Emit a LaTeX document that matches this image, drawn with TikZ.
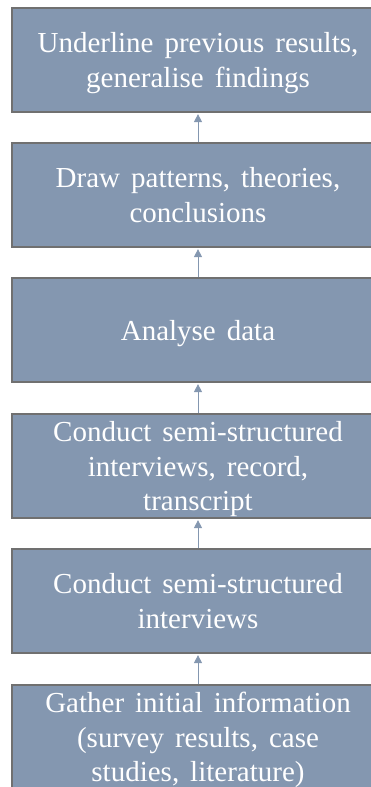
\documentclass[tikz,border=0pt]{standalone}
\usepackage{fontspec}
\setmainfont{Liberation Serif}
\usetikzlibrary{arrows.meta}
\definecolor{stepfill}{HTML}{8497B0}
\definecolor{stepedge}{HTML}{707070}
% step text: large serif with wide word spacing
\newcommand\stepfont{\fontsize{29pt}{34.5pt}\selectfont\spaceskip=11pt plus 2pt minus 2pt\relax}
\tikzset{
  stepbox/.style={draw=stepedge, line width=1.2pt, fill=stepfill, text=white,
    minimum width=372pt, minimum height=104pt, inner sep=0pt, text depth=0pt,
    align=center, font=\stepfont},
  uparrow/.style={draw=stepfill, line width=0.9pt,
    -{Triangle[length=8pt,width=8pt]}, shorten >=1.5pt}
}
\begin{document}
\begin{tikzpicture}[x=1pt,y=1pt]
  \useasboundingbox (0,0) rectangle (371,-787);
  \clip (0,0) rectangle (371,-787);
  \node[stepbox] (s1) at (198,-60)  {Underline previous results,\\generalise findings};
  \node[stepbox] (s2) at (198,-195) {Draw patterns, theories,\\conclusions};
  \node[stepbox] (s3) at (198,-330) {Analyse data};
  \node[stepbox] (s4) at (198,-466) {Conduct semi-structured\\interviews, record,\\transcript};
  \node[stepbox] (s5) at (198,-601) {Conduct semi-structured\\interviews};
  \node[stepbox] (s6) at (198,-737) {Gather initial information\\(survey results, case\\studies, literature)};
  \draw[uparrow] (s2.north) -- (s1.south);
  \draw[uparrow] (s3.north) -- (s2.south);
  \draw[uparrow] (s4.north) -- (s3.south);
  \draw[uparrow] (s5.north) -- (s4.south);
  \draw[uparrow] (s6.north) -- (s5.south);
\end{tikzpicture}
\end{document}
